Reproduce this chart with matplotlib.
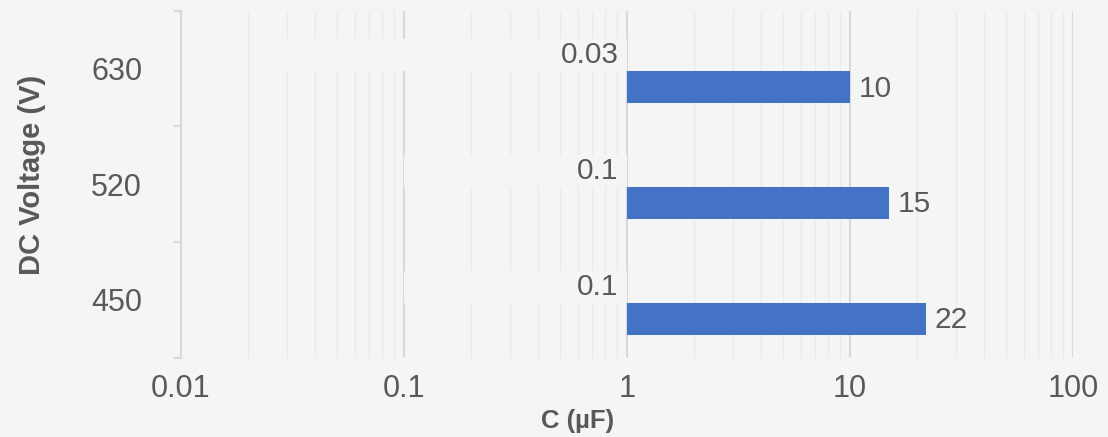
import matplotlib
matplotlib.use("Agg")
import matplotlib.pyplot as plt
import numpy as np
from matplotlib.ticker import FixedLocator, NullFormatter, LogLocator

categories = ["450", "520", "630"]
c_min = [0.1, 0.1, 0.03]
c_max = [22, 15, 10]
min_labels = ["0.1", "0.1", "0.03"]
max_labels = ["22", "15", "10"]
xticks = [0.01, 0.1, 1, 10, 100]
xtick_labels = ["0.01", "0.1", "1", "10", "100"]

BG = "#f5f5f5"
TXT = "#595959"
BAR = "#4472C4"
plt.rcParams["font.family"] = ["Liberation Sans", "DejaVu Sans"]

fig = plt.figure(figsize=(11.08, 4.37), dpi=100, facecolor=BG)
ax = fig.add_axes([0.1634, 0.1815, 0.9684 - 0.1634, 0.9755 - 0.1815])
ax.set_facecolor(BG)
ax.set_xscale("log")
ax.set_xlim(0.01, 100)
ax.set_ylim(-0.5, 2.5)

y = np.arange(len(categories))
base = 1.0
hbar = 0.277
off_max = -0.1625
off_min = 0.114

# min series: bars filled with background colour (hide gridlines)
ax.barh(y + off_min, np.array(c_min) - base, left=base, height=hbar,
        color=BG, edgecolor="none", zorder=2)
ax.barh(y + off_max, np.array(c_max) - base, left=base, height=hbar, color=BAR, zorder=3)

for yi, v, lab in zip(y, c_max, max_labels):
    ax.annotate(lab, (v, yi + off_max), xytext=(6, -1), textcoords="offset points",
                ha="left", va="center", fontsize=21.5, color=TXT, zorder=4)
for yi, v, lab in zip(y, c_min, min_labels):
    ax.annotate(lab, (base, yi + off_min), xytext=(-6, 0), textcoords="offset points",
                ha="right", va="center", fontsize=21.5, color=TXT, zorder=4)

ax.xaxis.set_major_locator(FixedLocator(xticks))
ax.set_xticklabels(xtick_labels)
ax.xaxis.set_minor_locator(LogLocator(base=10, subs=np.arange(2, 10)))
ax.xaxis.set_minor_formatter(NullFormatter())
ax.grid(True, which="major", axis="x", color="#d9d9d9", linewidth=1.5, zorder=0)
ax.grid(True, which="minor", axis="x", color="#eaeaea", linewidth=1.0, zorder=0)
ax.set_axisbelow(True)

ax.set_yticks(y)
ax.set_yticklabels(categories)
ax.yaxis.set_minor_locator(FixedLocator([-0.5, 0.5, 1.5, 2.5]))
ax.tick_params(axis="y", which="major", length=0, pad=28, labelsize=22, labelcolor=TXT)
ax.tick_params(axis="y", which="minor", length=5, width=1.5, color="#d9d9d9", direction="out")
ax.tick_params(axis="x", which="both", length=0, pad=12, labelsize=22, labelcolor=TXT)

for s in ["top", "right", "bottom"]:
    ax.spines[s].set_visible(False)
ax.spines["left"].set_color("#d9d9d9")
ax.spines["left"].set_linewidth(1.5)

fig.text(0.0289, 0.60, "DC Voltage (V)", rotation=90, ha="center", va="center",
         fontsize=21, fontweight="bold", color=TXT)
fig.text(0.5217, 0.037, "C (µF)", ha="center", va="center",
         fontsize=18.5, fontweight="bold", color=TXT)

fig.savefig("out.png", dpi=100, facecolor=BG)
